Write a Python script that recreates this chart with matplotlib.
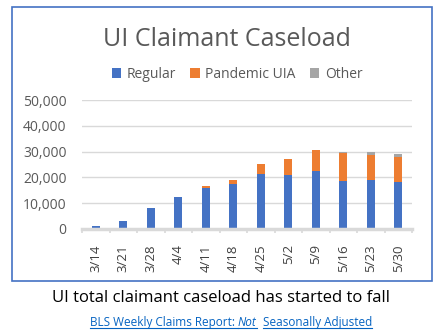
import matplotlib
matplotlib.use("Agg")
import matplotlib.pyplot as plt
from matplotlib.patches import Rectangle
from matplotlib.ticker import FuncFormatter, FixedLocator
import numpy as np

# Weekly UI claimant caseload by program
weeks = ["3/14", "3/21", "3/28", "4/4", "4/11", "4/18", "4/25", "5/2", "5/9", "5/16", "5/23", "5/30"]
regular = [1300, 3100, 8000, 12400, 15900, 17400, 21300, 20800, 22500, 18600, 18900, 18200]
pandemic_uia = [0, 0, 0, 0, 600, 1500, 3900, 6300, 8100, 10900, 9800, 9800]
other = [0, 0, 0, 0, 0, 0, 0, 0, 0, 200, 1000, 1200]

series_names = ["Regular", "Pandemic UIA", "Other"]
series_colors = ["#4472C4", "#ED7D31", "#A5A5A5"]

FONT = "Open Sans"
GRAY_TEXT = "#595959"

fig = plt.figure(figsize=(4.42, 3.35), dpi=100)
fig.patch.set_facecolor("white")

# Outer chart frame
fig.add_artist(Rectangle((12 / 442, 1 - 281 / 335), 420 / 442, 274 / 335,
                         transform=fig.transFigure, fill=False,
                         edgecolor="#4472C4", linewidth=1.2))

ax = fig.add_axes([82 / 442, 1 - 229 / 335, 330 / 442, 129 / 335])
x = np.arange(len(weeks))
width = 0.29
bottom = np.zeros(len(weeks))
handles = []
for vals, name, color in zip([regular, pandemic_uia, other], series_names, series_colors):
    vals = np.array(vals, dtype=float)
    h = ax.bar(x, vals, width, bottom=bottom, color=color, label=name, zorder=3)
    handles.append(h)
    bottom += vals

ax.set_xlim(-0.5, len(weeks) - 0.5)
ax.set_ylim(0, 50000)
ax.set_yticks(np.arange(0, 50001, 10000))
ax.yaxis.set_major_formatter(FuncFormatter(lambda v, p: f"{int(v):,}"))
ax.grid(axis="y", color="#D9D9D9", linewidth=1.0, zorder=0)
ax.set_axisbelow(True)

for side in ["top", "right", "left"]:
    ax.spines[side].set_visible(False)
ax.spines["bottom"].set_color("#D9D9D9")
ax.spines["bottom"].set_linewidth(2.5)
ax.spines["bottom"].set_zorder(4)

ax.set_xticks(x)
ax.set_xticklabels(weeks, rotation=90, fontsize=9.5, color="#404040", family=FONT)
ax.tick_params(axis="x", which="major", length=0, pad=11)
ax.xaxis.set_minor_locator(FixedLocator(np.arange(-0.5, len(weeks), 1.0)))
ax.tick_params(axis="x", which="minor", length=3, width=1.2, color="#D9D9D9")
ax.tick_params(axis="y", length=0, pad=11, labelsize=10, labelcolor=GRAY_TEXT)
for lbl in ax.get_yticklabels():
    lbl.set_family(FONT)

fig.text(0.5135, 1 - 40 / 335, "UI Claimant Caseload", ha="center", va="center",
         fontsize=18, color=GRAY_TEXT, family=FONT)

fig.legend(handles=handles, labels=series_names, loc="center",
           bbox_to_anchor=(237 / 442, 1 - 74 / 335), ncol=3, frameon=False,
           prop={"family": FONT, "size": 10}, labelcolor=GRAY_TEXT,
           handlelength=0.7, handleheight=0.7, handletextpad=0.4, columnspacing=1.0)

fig.text(0.5, 1 - 298 / 335, "UI total claimant caseload has started to fall",
         ha="center", va="center", fontsize=12, color="black", family=FONT)

# Source link line: underlined pieces with an italic word
link_color = "#0563C1"
pieces = [("BLS Weekly Claims Report: ", "normal"), ("Not", "italic"), ("  ", "normal"),
          ("Seasonally Adjusted", "normal")]
fig.canvas.draw()
renderer = fig.canvas.get_renderer()
y_link = 1 - 326 / 335
texts = []
for s, style in pieces:
    t = fig.text(0, y_link, s, ha="left", va="baseline", fontsize=8.5,
                 color=link_color, family=FONT, style=style)
    texts.append(t)
widths = [t.get_window_extent(renderer).width for t in texts]
total = sum(widths)
start = 231 - total / 2
cur = start
for t, w, (s, style) in zip(texts, widths, pieces):
    t.set_x(cur / fig.bbox.width)
    if s.strip():
        y_ul = y_link - 2.0 / fig.bbox.height
        fig.add_artist(plt.Line2D([cur / fig.bbox.width, (cur + w) / fig.bbox.width],
                                  [y_ul, y_ul], transform=fig.transFigure,
                                  color=link_color, linewidth=0.8))
    cur += w

fig.savefig("out.png", dpi=100)
